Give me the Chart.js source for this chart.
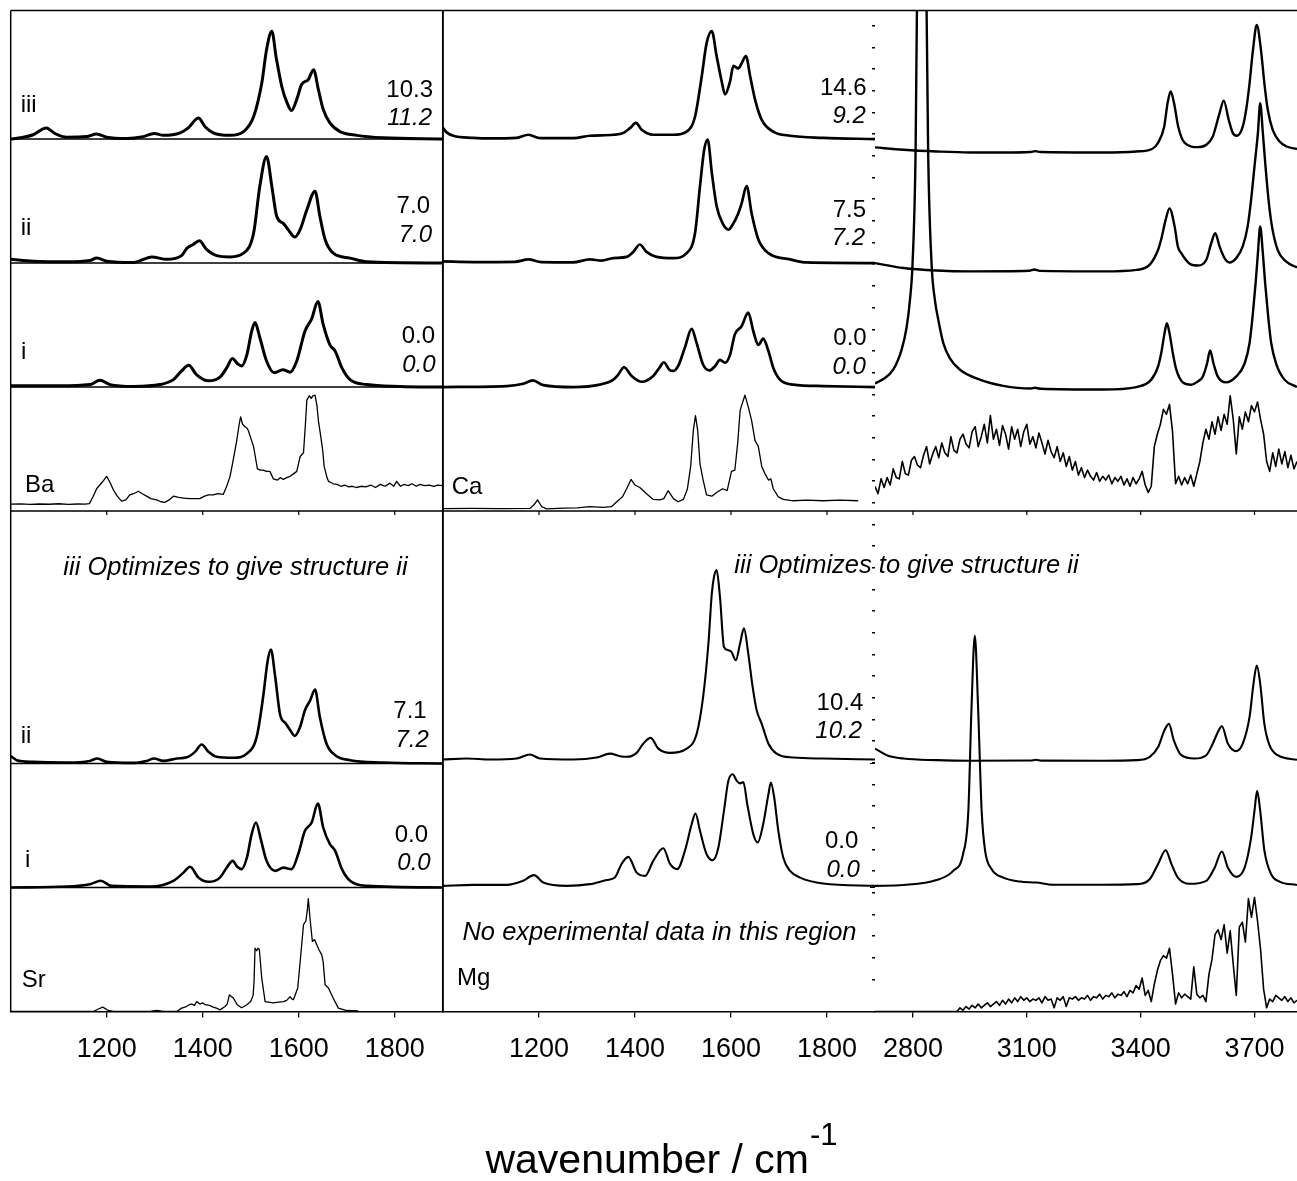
<!DOCTYPE html>
<html>
<head>
<meta charset="utf-8">
<title>IR spectra</title>
<script src="https://cdn.jsdelivr.net/npm/chart.js@4.4.1/dist/chart.umd.min.js"></script>
<style>
  body { margin: 0; background: #fff; }
  #wrap { position: relative; width: 1297px; height: 1181px; overflow: hidden; }
  canvas { position: absolute; top: 0; }
</style>
</head>
<body>
<div id="wrap">
  <canvas id="colLeft" width="445" height="1181" style="left:0px"></canvas>
  <canvas id="colMid" width="864" height="1181" style="left:433px"></canvas>
  <canvas id="colRight" width="432" height="1181" style="left:865px"></canvas>
</div>
<script>
// tick labels
const fingerprintTicks = [1200, 1400, 1600, 1800];
const stretchTicks = [2800, 3100, 3400, 3700];

// structures and relative energies [upright, italic]
const structures = ['iii', 'ii', 'i'];
const baEnergies = [[10.3, 11.2], [7.0, 7.0], [0.0, 0.0]];
const caEnergies = [[14.6, 9.2], [7.5, 7.2], [0.0, 0.0]];
const srEnergies = [[7.1, 7.2], [0.0, 0.0]];
const mgEnergies = [[10.4, 10.2], [0.0, 0.0]];

// spectra, [wavenumber, intensity]
const baIII = [[1000,0],[1019,0.01],[1047,0.035],[1074,0.09],[1092,0.045],[1117,0.015],[1158,0.02],[1179,0.04],[1200,0.015],[1242,0.005],[1276,0.02],[1299,0.045],[1318,0.03],[1353,0.05],[1370,0.09],[1391,0.17],[1405,0.10],[1422,0.05],[1457,0.03],[1485,0.06],[1506,0.18],[1523,0.45],[1533,0.72],[1544,0.87],[1553,0.66],[1565,0.42],[1576,0.29],[1585,0.23],[1596,0.32],[1606,0.44],[1620,0.48],[1631,0.56],[1641,0.40],[1651,0.24],[1665,0.13],[1686,0.06],[1721,0.03],[1776,0.01],[1900,0]];
const baII = [[1000,0.03],[1047,0.015],[1117,0.01],[1165,0.02],[1179,0.04],[1200,0.015],[1256,0.005],[1294,0.05],[1325,0.03],[1356,0.06],[1367,0.12],[1380,0.15],[1393,0.18],[1408,0.11],[1429,0.06],[1457,0.05],[1485,0.08],[1506,0.24],[1519,0.62],[1533,0.86],[1544,0.62],[1554,0.38],[1568,0.32],[1578,0.27],[1592,0.21],[1603,0.27],[1617,0.43],[1634,0.58],[1644,0.38],[1655,0.19],[1672,0.08],[1707,0.04],[1742,0.01],[1900,0]];
const baI = [[1000,0.01],[1100,0.01],[1165,0.02],[1186,0.055],[1207,0.02],[1256,0.005],[1311,0.02],[1339,0.06],[1356,0.13],[1371,0.175],[1387,0.10],[1412,0.05],[1436,0.08],[1450,0.155],[1462,0.23],[1472,0.19],[1481,0.17],[1492,0.26],[1502,0.45],[1509,0.52],[1519,0.40],[1533,0.21],[1549,0.115],[1567,0.14],[1582,0.12],[1596,0.21],[1613,0.45],[1627,0.55],[1640,0.69],[1651,0.505],[1665,0.34],[1676,0.29],[1690,0.155],[1707,0.06],[1742,0.02],[1811,0.005],[1900,0]];
const baExp = [[1000,0.056],[1020,0.058],[1040,0.054],[1060,0.057],[1080,0.055],[1100,0.059],[1120,0.054],[1140,0.057],[1155,0.056],[1164,0.06],[1172,0.12],[1179,0.18],[1190,0.23],[1200,0.28],[1207,0.23],[1214,0.17],[1222,0.12],[1231,0.08],[1240,0.09],[1248,0.13],[1256,0.14],[1266,0.16],[1274,0.14],[1283,0.12],[1292,0.10],[1304,0.09],[1313,0.075],[1321,0.07],[1330,0.09],[1339,0.12],[1350,0.11],[1360,0.105],[1372,0.10],[1385,0.10],[1394,0.10],[1404,0.12],[1412,0.13],[1422,0.13],[1432,0.14],[1443,0.135],[1450,0.20],[1457,0.28],[1464,0.42],[1471,0.57],[1476,0.70],[1479,0.76],[1483,0.70],[1488,0.68],[1492,0.67],[1495,0.65],[1500,0.59],[1506,0.52],[1510,0.43],[1514,0.34],[1520,0.33],[1526,0.33],[1533,0.32],[1540,0.32],[1547,0.26],[1556,0.25],[1562,0.27],[1568,0.255],[1575,0.27],[1582,0.28],[1589,0.30],[1596,0.32],[1603,0.44],[1610,0.47],[1614,0.70],[1617,0.895],[1622,0.93],[1626,0.91],[1630,0.93],[1634,0.935],[1638,0.85],[1641,0.73],[1646,0.60],[1650,0.49],[1653,0.36],[1655,0.33],[1659,0.27],[1662,0.24],[1667,0.23],[1672,0.22],[1680,0.215],[1688,0.20],[1696,0.21],[1704,0.195],[1712,0.20],[1720,0.19],[1730,0.20],[1740,0.195],[1750,0.21],[1760,0.19],[1770,0.215],[1780,0.20],[1790,0.225],[1798,0.20],[1804,0.24],[1812,0.20],[1820,0.215],[1828,0.205],[1836,0.22],[1845,0.20],[1853,0.215],[1862,0.205],[1872,0.21],[1881,0.20],[1890,0.21],[1900,0.205]];

const caIII = [[1000,0.09],[1007.6,0.054],[1021.5,0.027],[1063,0.01],[1098,0.005],[1153.5,0.01],[1178,0.035],[1202,0.008],[1271.5,0.008],[1306,0.027],[1355,0.035],[1376,0.05],[1390,0.09],[1402,0.13],[1414,0.075],[1438,0.035],[1480,0.035],[1507.6,0.06],[1525,0.18],[1539,0.505],[1549,0.77],[1560,0.87],[1570,0.67],[1580.6,0.465],[1587.5,0.36],[1598,0.465],[1605,0.59],[1615,0.57],[1622,0.61],[1631,0.67],[1640,0.505],[1650,0.32],[1664,0.155],[1688,0.06],[1723,0.027],[1792,0.01],[1900,0]];
const caII = [[1000,0.013],[1063,0.008],[1150,0.01],[1178,0.03],[1205,0.008],[1271,0.006],[1306,0.03],[1330,0.02],[1355,0.04],[1382.6,0.05],[1396.5,0.09],[1410,0.15],[1424,0.09],[1445,0.05],[1480,0.04],[1507.6,0.08],[1525,0.24],[1535.4,0.62],[1544,0.91],[1551.4,0.995],[1560,0.73],[1570,0.46],[1582.6,0.32],[1594.4,0.27],[1605,0.32],[1615,0.40],[1622,0.48],[1632.6,0.62],[1643,0.40],[1657,0.19],[1678,0.08],[1723,0.03],[1757.6,0.005],[1900,0]];
const caI = [[1000,0],[1132.6,0.008],[1167,0.027],[1187,0.054],[1209,0.016],[1271.5,0],[1327,0.02],[1355,0.06],[1365,0.10],[1377,0.16],[1393,0.09],[1414,0.043],[1438,0.09],[1451,0.156],[1460,0.20],[1471.5,0.14],[1480,0.13],[1490,0.17],[1504,0.32],[1518,0.47],[1528,0.36],[1542,0.18],[1555,0.134],[1567,0.17],[1577,0.22],[1587.5,0.196],[1598,0.26],[1608,0.425],[1622,0.49],[1636,0.60],[1646.5,0.45],[1657,0.34],[1667,0.39],[1678,0.29],[1688,0.156],[1702,0.06],[1730,0.02],[1792,0.008],[1900,0]];
const caExp = [[1000,0.02],[1060,0.021],[1120,0.02],[1181,0.021],[1189.6,0.05],[1197,0.09],[1205.6,0.035],[1216,0.018],[1251,0.024],[1280,0.026],[1306,0.035],[1334,0.03],[1351,0.035],[1362,0.075],[1374,0.115],[1382.6,0.18],[1391.7,0.255],[1400,0.21],[1410,0.19],[1424,0.14],[1438,0.094],[1452,0.09],[1460,0.10],[1469,0.164],[1480,0.10],[1490,0.075],[1500.7,0.094],[1509,0.175],[1516,0.36],[1521.5,0.65],[1526,0.77],[1530.6,0.65],[1535.4,0.38],[1542,0.25],[1549,0.13],[1560,0.12],[1570,0.15],[1582.6,0.18],[1592,0.165],[1601,0.32],[1608,0.33],[1614,0.55],[1619,0.81],[1623.6,0.87],[1629,0.935],[1636,0.84],[1643,0.73],[1650,0.57],[1657,0.52],[1664,0.36],[1671,0.30],[1678,0.25],[1683,0.26],[1688,0.18],[1698.6,0.115],[1709,0.094],[1730,0.083],[1757.6,0.088],[1792,0.083],[1827,0.088],[1865,0.083]];

const srII = [[1000,0.06],[1012.5,0.027],[1047,0.013],[1117,0.008],[1165,0.021],[1180.6,0.04],[1200,0.013],[1255.6,0.005],[1283,0.021],[1298.6,0.04],[1318,0.021],[1346,0.04],[1367,0.05],[1384,0.094],[1398,0.153],[1412,0.094],[1429,0.054],[1464,0.046],[1492,0.08],[1512.5,0.215],[1526,0.54],[1535.4,0.83],[1542,0.92],[1551,0.70],[1561,0.40],[1573.6,0.32],[1582,0.27],[1592,0.223],[1603,0.296],[1613,0.43],[1624,0.51],[1634,0.597],[1644,0.376],[1658,0.16],[1676,0.067],[1707,0.027],[1776,0.008],[1900,0]];
const srI = [[1000,0],[1117,0.008],[1165,0.027],[1187.5,0.054],[1210,0.013],[1290,0.008],[1339,0.054],[1360,0.12],[1373.6,0.167],[1391,0.08],[1412,0.046],[1436,0.08],[1450,0.16],[1462.5,0.215],[1472,0.167],[1481,0.148],[1492,0.24],[1502,0.43],[1511,0.524],[1521,0.39],[1533,0.215],[1551,0.134],[1568,0.16],[1585,0.148],[1599,0.27],[1613,0.457],[1627,0.524],[1640,0.677],[1651,0.484],[1665,0.35],[1676,0.296],[1690,0.148],[1707,0.054],[1742,0.013],[1900,0]];
const srExp = [[1000,0],[1172,0],[1182.6,0.02],[1191.7,0.035],[1203.5,0.008],[1214,0],[1290,0],[1304,0.008],[1318,0],[1346,0],[1356,0.027],[1366,0.04],[1372,0.055],[1377,0.06],[1383,0.05],[1387.5,0.08],[1394,0.06],[1400,0.07],[1405,0.055],[1414,0.05],[1422,0.035],[1430,0.025],[1436,0.013],[1446.5,0.04],[1451,0.06],[1455.6,0.134],[1460,0.12],[1464,0.108],[1472,0.054],[1481,0.03],[1486,0.04],[1492,0.054],[1500,0.08],[1505,0.13],[1507,0.24],[1509,0.51],[1512.5,0.49],[1515,0.51],[1518,0.50],[1523,0.27],[1530,0.08],[1547,0.07],[1558,0.075],[1568,0.08],[1575,0.09],[1582,0.12],[1586,0.10],[1589,0.095],[1598,0.19],[1603,0.40],[1610,0.70],[1615,0.73],[1618,0.82],[1620,0.91],[1623.6,0.75],[1628.5,0.565],[1633,0.58],[1637.5,0.54],[1642,0.50],[1648,0.457],[1651,0.40],[1655,0.215],[1662,0.19],[1672,0.107],[1682.6,0.027],[1700,0.008],[1724,0.005]];

const mgII = [[1000,0.032],[1049,0.04],[1098,0.032],[1153.5,0.04],[1181,0.073],[1202,0.04],[1271.5,0.032],[1320,0.048],[1348,0.08],[1369,0.059],[1383,0.054],[1403.5,0.086],[1417,0.16],[1432.6,0.207],[1448.6,0.12],[1473,0.086],[1507.6,0.12],[1528.5,0.24],[1542,0.54],[1553,0.97],[1560,1.37],[1564.6,1.505],[1570,1.56],[1577,1.345],[1585.4,0.94],[1594.4,0.914],[1601,0.90],[1610,0.833],[1619,0.97],[1627,1.09],[1636,0.887],[1645,0.62],[1653.5,0.43],[1664,0.32],[1678,0.16],[1695,0.08],[1730,0.048],[1792,0.04],[1900,0.032]];
const mgI = [[1000,0.013],[1063,0.021],[1132.6,0.021],[1167,0.054],[1189.6,0.10],[1209,0.04],[1257.6,0.013],[1306,0.027],[1341,0.06],[1358,0.08],[1372,0.19],[1386,0.247],[1403.5,0.12],[1421,0.094],[1438,0.215],[1459,0.317],[1473,0.19],[1488,0.148],[1504,0.296],[1518,0.51],[1526,0.597],[1535.4,0.457],[1549,0.27],[1562,0.22],[1573.6,0.32],[1585.4,0.62],[1594.4,0.86],[1603.5,0.914],[1612,0.86],[1619,0.84],[1625.7,0.85],[1634,0.67],[1646.5,0.43],[1655.6,0.363],[1667,0.51],[1678,0.753],[1683,0.847],[1690,0.726],[1698.6,0.457],[1709,0.24],[1723,0.134],[1744,0.08],[1792,0.032],[1900,0.013]];

// O-H / C-H stretch region
const caStretchIII = [[2700,-0.067],[2775,-0.086],[2862,-0.10],[2950,-0.108],[3038,-0.108],[3110,-0.104],[3122,-0.097],[3136,-0.104],[3301,-0.108],[3389,-0.10],[3430,-0.08],[3446,-0.03],[3462,0.10],[3471,0.29],[3479,0.384],[3488,0.29],[3499,0.10],[3516,-0.03],[3551,-0.065],[3573,-0.046],[3590,0.02],[3608,0.21],[3619,0.31],[3632,0.156],[3643,0.048],[3654,0.027],[3669,0.10],[3678,0.237],[3687,0.45],[3696,0.72],[3706,0.92],[3717,0.72],[3726,0.45],[3735,0.237],[3748,0.075],[3766,-0.02],[3785,-0.06],[3812,-0.08]];
const caStretchII = [[2700,0],[2775,-0.04],[2862,-0.06],[2950,-0.067],[3106,-0.062],[3120,-0.052],[3134,-0.063],[3301,-0.067],[3389,-0.055],[3424,-0.013],[3446,0.107],[3454,0.19],[3466,0.35],[3476,0.44],[3489.5,0.296],[3498,0.134],[3507,0.08],[3529,-0.005],[3551,-0.02],[3573,0.027],[3586,0.16],[3596.5,0.24],[3608,0.134],[3621,0.04],[3634,0.005],[3652,0.04],[3669,0.134],[3682,0.296],[3691,0.51],[3700,0.78],[3709,1.05],[3715,1.29],[3722,1.05],[3729,0.78],[3737,0.51],[3746,0.296],[3761,0.107],[3783,0.013],[3812,-0.035]];
const caStretchI = [[2700,0.03],[2722,0.065],[2748,0.14],[2770,0.30],[2783,0.476],[2792,0.70],[2799,1.0],[2807,1.91],[2814,4.2],[2818,5.9],[2823,7.0],[2827,5.9],[2832,4.2],[2840,1.91],[2849,1.0],[2858,0.70],[2867,0.54],[2880,0.355],[2897,0.234],[2924,0.14],[2976,0.06],[3038,0.01],[3110,-0.012],[3122,-0.005],[3136,-0.014],[3301,-0.02],[3389,0.0],[3428,0.06],[3446,0.167],[3454,0.27],[3463,0.435],[3469,0.516],[3476,0.435],[3485,0.27],[3494,0.14],[3511,0.038],[3533,0.019],[3551,0.046],[3564,0.086],[3575,0.19],[3583,0.296],[3592,0.19],[3603,0.086],[3625,0.038],[3652,0.086],[3674,0.19],[3687,0.355],[3695,0.57],[3703,0.84],[3709,1.08],[3715,1.296],[3722,1.08],[3728,0.84],[3736,0.57],[3744,0.355],[3757,0.19],[3779,0.06],[3812,0]];
const caStretchExp = [[2700,0.20],[2708,0.14],[2716,0.26],[2724,0.19],[2732,0.27],[2740,0.21],[2748,0.34],[2756,0.27],[2764,0.26],[2772,0.40],[2780,0.30],[2788,0.29],[2796,0.41],[2804,0.44],[2812,0.37],[2820,0.35],[2828,0.45],[2836,0.52],[2844,0.38],[2852,0.46],[2860,0.52],[2868,0.43],[2876,0.55],[2884,0.47],[2892,0.44],[2900,0.60],[2908,0.49],[2916,0.47],[2924,0.58],[2932,0.62],[2940,0.54],[2948,0.51],[2956,0.64],[2964,0.68],[2972,0.52],[2980,0.60],[2988,0.70],[2996,0.55],[3004,0.77],[3012,0.58],[3020,0.66],[3028,0.53],[3036,0.69],[3044,0.62],[3052,0.50],[3060,0.68],[3068,0.58],[3076,0.66],[3084,0.52],[3092,0.64],[3100,0.70],[3108,0.54],[3116,0.60],[3124,0.51],[3132,0.63],[3140,0.55],[3148,0.46],[3156,0.57],[3164,0.48],[3172,0.43],[3180,0.52],[3188,0.40],[3196,0.47],[3204,0.36],[3212,0.44],[3220,0.33],[3228,0.40],[3236,0.29],[3244,0.35],[3252,0.27],[3260,0.33],[3268,0.28],[3276,0.25],[3284,0.31],[3292,0.24],[3300,0.28],[3308,0.25],[3316,0.29],[3324,0.22],[3332,0.27],[3340,0.24],[3348,0.28],[3356,0.21],[3364,0.26],[3372,0.20],[3380,0.27],[3388,0.22],[3396,0.26],[3404,0.32],[3412,0.21],[3420,0.15],[3428,0.20],[3436,0.52],[3444,0.62],[3452,0.70],[3460,0.82],[3468,0.78],[3476,0.86],[3484,0.64],[3492,0.22],[3500,0.28],[3508,0.21],[3516,0.27],[3524,0.22],[3532,0.29],[3540,0.20],[3548,0.30],[3556,0.40],[3564,0.55],[3572,0.66],[3580,0.58],[3588,0.72],[3596,0.62],[3604,0.76],[3612,0.65],[3620,0.78],[3628,0.70],[3636,0.93],[3644,0.74],[3652,0.46],[3660,0.76],[3668,0.66],[3676,0.80],[3684,0.72],[3692,0.85],[3700,0.80],[3708,0.88],[3716,0.74],[3724,0.62],[3732,0.40],[3740,0.32],[3748,0.47],[3756,0.36],[3764,0.50],[3772,0.38],[3780,0.48],[3788,0.35],[3796,0.45],[3804,0.34],[3812,0.40]];

const mgStretchII = [[2700,0.12],[2731,0.067],[2775,0.04],[2862,0.027],[2950,0.022],[3110,0.024],[3124,0.03],[3138,0.023],[3301,0.022],[3389,0.027],[3424,0.054],[3446,0.134],[3463,0.27],[3474.6,0.32],[3487,0.19],[3507,0.067],[3542,0.04],[3573,0.067],[3590,0.16],[3603,0.25],[3614,0.30],[3630,0.16],[3652,0.10],[3669,0.16],[3687,0.376],[3697.4,0.645],[3706,0.79],[3715,0.645],[3726,0.32],[3739.5,0.148],[3761,0.067],[3812,0.03]];
const mgStretchI = [[2700,0.013],[2775,0.02],[2862,0.06],[2906,0.134],[2932,0.27],[2946,0.62],[2954,1.42],[2963,2.03],[2972,1.42],[2981,0.62],[2990,0.30],[3007,0.15],[3038,0.08],[3082,0.048],[3125,0.04],[3169,0.022],[3301,0.022],[3389,0.027],[3424,0.067],[3446,0.19],[3466,0.30],[3481,0.19],[3498,0.08],[3529,0.03],[3573,0.054],[3595,0.16],[3614,0.29],[3630,0.16],[3652,0.086],[3674,0.16],[3691,0.40],[3700,0.62],[3707,0.78],[3715,0.62],[3726,0.30],[3744,0.107],[3766,0.048],[3812,0.02]];
const mgStretchExp = [[2700,0],[2908,0],[2916,0.00],[2924,0.03],[2932,0.01],[2940,0.04],[2948,0.02],[2956,0.05],[2964,0.03],[2972,0.06],[2980,0.03],[2988,0.05],[2996,0.07],[3004,0.04],[3012,0.06],[3020,0.08],[3028,0.05],[3036,0.09],[3044,0.06],[3052,0.10],[3060,0.07],[3068,0.11],[3076,0.08],[3084,0.12],[3092,0.09],[3100,0.11],[3108,0.08],[3116,0.10],[3124,0.09],[3132,0.11],[3140,0.07],[3148,0.12],[3156,0.09],[3164,0.10],[3172,0.03],[3180,0.11],[3188,0.09],[3196,0.12],[3204,0.04],[3212,0.11],[3220,0.10],[3228,0.12],[3236,0.09],[3244,0.11],[3252,0.10],[3260,0.13],[3268,0.09],[3276,0.12],[3284,0.11],[3292,0.14],[3300,0.10],[3308,0.13],[3316,0.12],[3324,0.15],[3332,0.11],[3340,0.14],[3348,0.13],[3356,0.16],[3364,0.12],[3372,0.17],[3380,0.15],[3388,0.21],[3396,0.18],[3404,0.27],[3412,0.13],[3420,0.17],[3428,0.08],[3436,0.22],[3444,0.33],[3452,0.41],[3460,0.45],[3468,0.43],[3476,0.51],[3484,0.30],[3492,0.06],[3500,0.15],[3508,0.11],[3516,0.14],[3524,0.12],[3532,0.10],[3540,0.36],[3548,0.14],[3556,0.11],[3564,0.13],[3572,0.08],[3580,0.30],[3588,0.42],[3596,0.62],[3604,0.66],[3612,0.58],[3620,0.70],[3628,0.47],[3636,0.65],[3644,0.38],[3652,0.13],[3660,0.68],[3668,0.72],[3676,0.56],[3684,0.91],[3692,0.76],[3700,0.92],[3708,0.73],[3716,0.50],[3724,0.18],[3732,0.03],[3740,0.10],[3748,0.08],[3756,0.13],[3764,0.11],[3772,0.09],[3780,0.12],[3788,0.08],[3796,0.11],[3804,0.07],[3812,0.09]];

// stacking: one unit = one panel height
const Y_TOP = 8.073;
const TOP = { iii: 7.036, ii: 6.036, i: 5.036, exp: 4.036 };
const LOW = { ii: 2, i: 1, exp: 0 };

const FONT = "'Liberation Sans', Arial, sans-serif";
Chart.defaults.font.family = FONT;
Chart.defaults.color = '#000';

const fmt = v => v.toFixed(1);

function trace(points, base, width, smooth = true) {
    return {
        data: points.map(([x, h]) => ({ x: x, y: base + h })),
        borderColor: '#000',
        borderWidth: width,
        pointRadius: 0,
        fill: false,
        tension: 0,
        cubicInterpolationMode: smooth ? 'monotone' : 'default',
        borderJoinStyle: 'round'
    };
}

function framePlugin(cfg) {
    return {
        id: 'frame',
        beforeDatasetsDraw(chart) {
            const { ctx, chartArea: a, scales } = chart;
            const y = scales.y, x = scales.x;
            ctx.save();
            ctx.strokeStyle = '#000';
            ctx.lineWidth = 1.5;
            ctx.beginPath();
            ctx.moveTo(a.left, a.top); ctx.lineTo(a.right, a.top);
            if (cfg.leftEdge) { ctx.moveTo(a.left, a.top); ctx.lineTo(a.left, a.bottom); }
            if (cfg.rightEdge) { ctx.moveTo(a.right, a.top); ctx.lineTo(a.right, a.bottom); }
            cfg.separators.forEach(v => {
                const py = y.getPixelForValue(v);
                ctx.moveTo(a.left, py); ctx.lineTo(a.right, py);
            });
            ctx.stroke();
            // tick marks under the upper row
            ctx.lineWidth = 1.2;
            ctx.beginPath();
            const midY = y.getPixelForValue(TOP.exp);
            cfg.ticks.forEach(t => {
                const px = x.getPixelForValue(t);
                ctx.moveTo(px, midY); ctx.lineTo(px, midY + 4);
            });
            (cfg.sideTicks || []).forEach(v => {
                const py = y.getPixelForValue(v);
                ctx.moveTo(a.left - 5, py); ctx.lineTo(a.left, py);
            });
            ctx.stroke();
            ctx.restore();
        },
        afterDraw(chart) {
            const { ctx, scales } = chart;
            ctx.save();
            ctx.fillStyle = '#000';
            ctx.textBaseline = 'alphabetic';
            (cfg.labels || []).forEach(l => {
                ctx.font = (l.italic ? 'italic ' : '') + (l.size || 24) + 'px ' + FONT;
                ctx.textAlign = l.align || 'left';
                ctx.fillText(l.text, scales.x.getPixelForValue(l.x), scales.y.getPixelForValue(l.y));
            });
            if (cfg.axisTitle) {
                const t = cfg.axisTitle;
                const cx = scales.x.getPixelForValue(t.x), by = scales.y.getPixelForValue(t.y);
                ctx.font = '41px ' + FONT;
                const w1 = ctx.measureText(t.main).width;
                ctx.font = '31px ' + FONT;
                const w2 = ctx.measureText(t.sup).width;
                const x0 = cx - (w1 + w2) / 2;
                ctx.textAlign = 'left';
                ctx.font = '41px ' + FONT;
                ctx.fillText(t.main, x0, by);
                ctx.font = '31px ' + FONT;
                ctx.fillText(t.sup, x0 + w1 + 1, by - 28);
            }
            ctx.restore();
        }
    };
}

function makeColumn(id, cfg) {
    const scales = {
        x: {
            type: 'linear', position: 'bottom', min: cfg.xMin, max: cfg.xMax,
            afterBuildTicks: s => { s.ticks = cfg.ticks.map(v => ({ value: v })); },
            afterFit: s => { s.height = 70; s.paddingLeft = 0; s.paddingRight = 0; },
            ticks: { callback: v => String(v), autoSkip: false, maxRotation: 0, padding: 16, color: '#000', font: { size: 27 } },
            grid: { drawOnChartArea: false, drawTicks: true, tickLength: 6, color: '#000', lineWidth: 1.3 },
            border: { display: true, color: '#000', width: 1.5 }
        },
        y: { type: 'linear', min: 0, max: Y_TOP, display: false }
    };
    if (cfg.dotAxis) {
        scales.y2 = {
            type: 'linear', position: 'left', min: -0.4845, max: 45.71, display: true,
            afterBuildTicks: s => { s.ticks = s.ticks.filter(t => Number.isInteger(t.value)); },
            afterFit: s => { s.width = 10; s.paddingTop = 0; s.paddingBottom = 0; },
            ticks: { display: false, stepSize: 1, autoSkip: false },
            grid: { drawOnChartArea: false, drawTicks: true, tickLength: 3, color: '#000', lineWidth: 1.5 },
            border: { display: false }
        };
    }
    return new Chart(document.getElementById(id), {
        type: 'line',
        data: { datasets: cfg.datasets },
        options: {
            responsive: false,
            animation: false,
            devicePixelRatio: 1,
            events: [],
            layout: { padding: { top: 10.5, bottom: 99.5, left: cfg.padLeft, right: cfg.padRight } },
            plugins: { legend: { display: false }, tooltip: { enabled: false } },
            scales: scales
        },
        plugins: [framePlugin(cfg)]
    });
}

// left column: Ba (top) and Sr (bottom)
makeColumn('colLeft', {
    xMin: 1000, xMax: 1900, ticks: fingerprintTicks, padLeft: 10.7, padRight: 2.3,
    leftEdge: true, rightEdge: true,
    separators: [LOW.i, LOW.ii, TOP.exp, TOP.i, TOP.ii, TOP.iii],
    datasets: [
        trace(baIII, TOP.iii, 3), trace(baII, TOP.ii, 3), trace(baI, TOP.i, 3),
        trace(baExp, TOP.exp, 1.3, false),
        trace(srII, LOW.ii, 2.6), trace(srI, LOW.i, 2.6),
        trace(srExp, LOW.exp, 1.3, false)
    ],
    labels: [
        { text: structures[0], x: 1020.8, y: 7.256 },
        { text: fmt(baEnergies[0][0]), x: 1879.8, y: 7.377, align: 'right' },
        { text: fmt(baEnergies[0][1]), x: 1878, y: 7.149, align: 'right', italic: true },
        { text: structures[1], x: 1020.8, y: 6.262 },
        { text: fmt(baEnergies[1][0]), x: 1873.5, y: 6.437, align: 'right' },
        { text: fmt(baEnergies[1][1]), x: 1878, y: 6.208, align: 'right', italic: true },
        { text: structures[2], x: 1021.5, y: 5.26 },
        { text: fmt(baEnergies[2][0]), x: 1884, y: 5.394, align: 'right' },
        { text: fmt(baEnergies[2][1]), x: 1885, y: 5.16, align: 'right', italic: true },
        { text: 'Ba', x: 1029.8, y: 4.192 },
        { text: 'iii Optimizes to give structure ii', x: 1468.3, y: 3.52, align: 'center', italic: true, size: 25.5 },
        { text: structures[1], x: 1020.8, y: 2.165 },
        { text: fmt(srEnergies[0][0]), x: 1866.7, y: 2.365, align: 'right' },
        { text: fmt(srEnergies[0][1]), x: 1871, y: 2.133, align: 'right', italic: true },
        { text: structures[2], x: 1029.8, y: 1.168 },
        { text: fmt(srEnergies[1][0]), x: 1869.4, y: 1.369, align: 'right' },
        { text: fmt(srEnergies[1][1]), x: 1875, y: 1.141, align: 'right', italic: true },
        { text: 'Sr', x: 1022.9, y: 0.2 }
    ]
});

// middle column: Ca (top) and Mg (bottom)
makeColumn('colMid', {
    xMin: 1000, xMax: 1900, ticks: fingerprintTicks, padLeft: 10, padRight: 422,
    leftEdge: true, rightEdge: false,
    separators: [TOP.exp],
    datasets: [
        trace(caIII, TOP.iii, 2.7), trace(caII, TOP.ii, 2.7), trace(caI, TOP.i, 2.7),
        trace(caExp, TOP.exp, 1.3, false),
        trace(mgII, LOW.ii, 2.1), trace(mgI, LOW.i, 2.1)
    ],
    labels: [
        { text: fmt(caEnergies[0][0]), x: 1882.7, y: 7.391, align: 'right' },
        { text: fmt(caEnergies[0][1]), x: 1881, y: 7.163, align: 'right', italic: true },
        { text: fmt(caEnergies[1][0]), x: 1881.3, y: 6.41, align: 'right' },
        { text: fmt(caEnergies[1][1]), x: 1879.5, y: 6.18, align: 'right', italic: true },
        { text: fmt(caEnergies[2][0]), x: 1882.7, y: 5.375, align: 'right' },
        { text: fmt(caEnergies[2][1]), x: 1881, y: 5.141, align: 'right', italic: true },
        { text: 'Ca', x: 1018.1, y: 4.173 },
        { text: 'iii Optimizes to give structure ii', x: 1965.6, y: 3.536, align: 'center', italic: true, size: 25.5 },
        { text: fmt(mgEnergies[0][0]), x: 1875.6, y: 2.431, align: 'right' },
        { text: fmt(mgEnergies[0][1]), x: 1873, y: 2.203, align: 'right', italic: true },
        { text: fmt(mgEnergies[1][0]), x: 1865.2, y: 1.316, align: 'right' },
        { text: fmt(mgEnergies[1][1]), x: 1868.5, y: 1.087, align: 'right', italic: true },
        { text: 'No experimental data in this region', x: 1451, y: 0.577, align: 'center', italic: true, size: 25.5 },
        { text: 'Mg', x: 1029.2, y: 0.214 }
    ],
    axisTitle: { main: 'wavenumber / cm', sup: '-1', x: 1454.2, y: -1.302 }
});

// right column: stretching region for Ca (top) and Mg (bottom)
makeColumn('colRight', {
    xMin: 2700, xMax: 3812, ticks: stretchTicks, padLeft: 0, padRight: 0,
    leftEdge: false, rightEdge: false, dotAxis: true,
    separators: [TOP.exp],
    sideTicks: [LOW.i, LOW.ii, TOP.i, TOP.ii, TOP.iii],
    datasets: [
        trace(caStretchIII, TOP.iii, 2.4), trace(caStretchII, TOP.ii, 2.4), trace(caStretchI, TOP.i, 2.4),
        trace(caStretchExp, TOP.exp, 1.6, false),
        trace(mgStretchII, LOW.ii, 2.1), trace(mgStretchI, LOW.i, 2.1),
        trace(mgStretchExp, LOW.exp, 1.6, false)
    ]
});
</script>
</body>
</html>
